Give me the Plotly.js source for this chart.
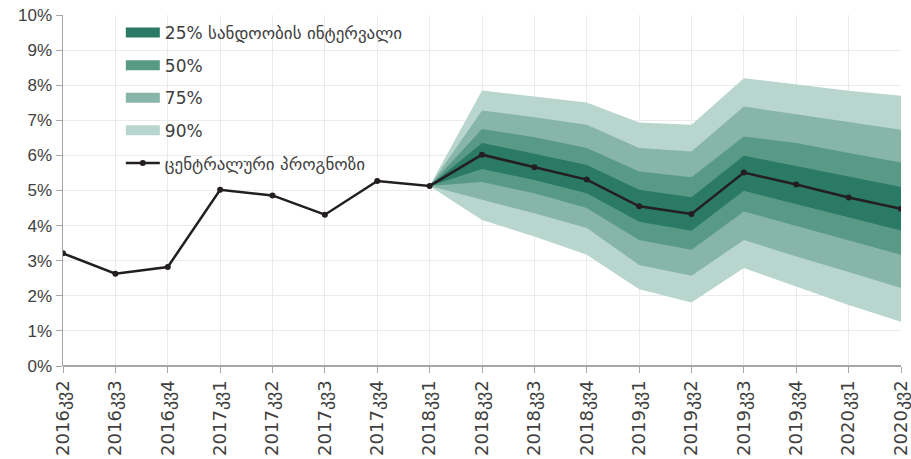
<!DOCTYPE html>
<html>
<head>
<meta charset="utf-8">
<script src="https://cdn.plot.ly/plotly-3.0.1.min.js"></script>
<style>html,body{margin:0;padding:0;background:#fff;}#chart{width:911px;height:459px;}</style>
</head>
<body>
<div id="chart"></div>
<script>
const categories = ["2016კვ2","2016კვ3","2016კვ4","2017კვ1","2017კვ2","2017კვ3","2017კვ4","2018კვ1","2018კვ2","2018კვ3","2018კვ4","2019კვ1","2019კვ2","2019კვ3","2019კვ4","2020კვ1","2020კვ2"];
const central = [3.21,2.63,2.82,5.02,4.86,4.31,5.27,5.13,6.02,5.66,5.31,4.55,4.33,5.51,5.17,4.80,4.48];
const forecastCats = ["2018კვ1","2018კვ2","2018კვ3","2018კვ4","2019კვ1","2019კვ2","2019კვ3","2019კვ4","2020კვ1","2020კვ2"];
const upper90 = [5.13,7.85,7.68,7.51,6.94,6.87,8.20,8.03,7.84,7.70];
const upper75 = [5.13,7.28,7.09,6.87,6.21,6.11,7.39,7.18,6.95,6.73];
const upper50 = [5.13,6.75,6.52,6.21,5.54,5.38,6.54,6.35,6.07,5.80];
const upper25 = [5.13,6.35,6.05,5.73,5.02,4.81,5.99,5.70,5.40,5.10];
const lower25 = [5.13,5.61,5.30,4.92,4.11,3.85,4.99,4.61,4.24,3.86];
const lower50 = [5.13,5.24,4.92,4.50,3.59,3.31,4.40,3.97,3.58,3.17];
const lower75 = [5.13,4.75,4.35,3.93,2.88,2.57,3.59,3.12,2.68,2.22];
const lower90 = [5.13,4.16,3.69,3.17,2.19,1.81,2.79,2.26,1.74,1.26];
const bandNames = ["25% სანდოობის ინტერვალი","50%","75%","90%"];
const centralName = "ცენტრალური პროგნოზი";
const yTickVals = [0,1,2,3,4,5,6,7,8,9,10];
const yTickText = ["0%","1%","2%","3%","4%","5%","6%","7%","8%","9%","10%"];

const bandColors = ["#2a7a66","#599a87","#87b5a8","#b9d6ce"];
const FONT = "'DejaVu Sans', sans-serif";
const FONT_Y = "'Liberation Sans', 'DejaVu Sans', sans-serif";

function band(up, lo, color){
  return {
    x: forecastCats.concat(forecastCats.slice().reverse()),
    y: up.concat(lo.slice().reverse()),
    type: "scatter", mode: "lines", fill: "toself",
    fillcolor: color, line: {width: 0, color: color},
    showlegend: false, hoverinfo: "skip"
  };
}
function legendBox(name, color, rank){
  return {
    x: [null], y: [null], type: "scatter", mode: "lines",
    line: {color: color, width: 12},
    name: name, legendrank: rank, legendgroup: name, showlegend: true
  };
}
const traces = [
  band(upper90, lower90, bandColors[3]),
  band(upper75, lower75, bandColors[2]),
  band(upper50, lower50, bandColors[1]),
  band(upper25, lower25, bandColors[0]),
  legendBox(bandNames[0], bandColors[0], 1),
  legendBox(bandNames[1], bandColors[1], 2),
  legendBox(bandNames[2], bandColors[2], 3),
  legendBox(bandNames[3], bandColors[3], 4),
  {
    x: categories, y: central, type: "scatter", mode: "lines+markers",
    name: centralName, legendrank: 5, legendgroup: "c",
    line: {color: "#231f20", width: 2.5}, marker: {color: "#231f20", size: 6}
  }
];

const layout = {
  width: 911, height: 459,
  margin: {l: 63, r: 10, t: 15, b: 93},
  paper_bgcolor: "#ffffff", plot_bgcolor: "#ffffff",
  font: {family: FONT, color: "#404040", size: 16},
  showlegend: true,
  legend: {
    x: 0.069, y: 1.0, xanchor: "left", yanchor: "top",
    bgcolor: "rgba(0,0,0,0)", font: {size: 17, color: "#404040", family: FONT},
    tracegroupgap: 7.5, itemwidth: 34
  },
  xaxis: {
    type: "category", categoryorder: "array", categoryarray: categories,
    range: [0, categories.length - 1],
    tickangle: -90, showgrid: true, gridcolor: "#ebebeb", gridwidth: 1,
    showline: false, ticks: "outside", ticklen: 6, tickcolor: "#a6a6a6",
    tickfont: {size: 18, color: "#404040", family: FONT},
    zeroline: false
  },
  yaxis: {
    range: [0, 10], tickvals: yTickVals, ticktext: yTickText,
    showgrid: true, gridcolor: "#ebebeb", gridwidth: 1,
    showline: true, linecolor: "#a6a6a6", linewidth: 1.5,
    ticks: "outside", ticklen: 6, tickcolor: "#a6a6a6",
    tickfont: {size: 17, color: "#404040", family: FONT_Y},
    zeroline: true, zerolinecolor: "#a6a6a6", zerolinewidth: 1.5
  }
};
Plotly.newPlot("chart", traces, layout, {displayModeBar: false, staticPlot: true});
</script>
</body>
</html>
